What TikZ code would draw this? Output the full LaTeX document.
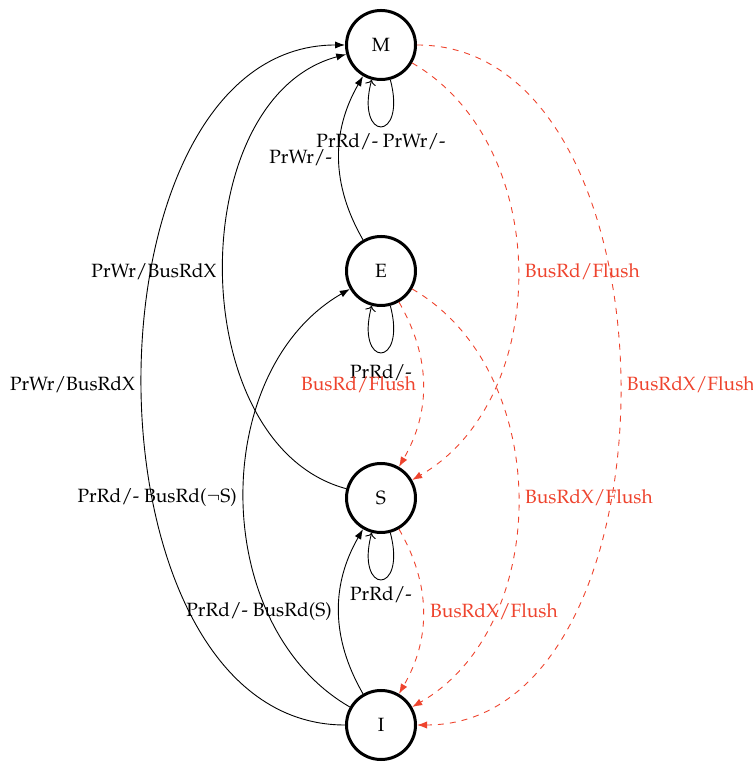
\documentclass[tikz,border=0pt]{standalone}
\usepackage[T1]{fontenc}
\usepackage{mathpazo}
\usetikzlibrary{arrows.meta}
\definecolor{flushred}{RGB}{238,68,46}
\begin{document}
\begin{tikzpicture}[x=0.5pt,y=0.5pt,
  every node/.style={font=\fontsize{9.6}{11.5}\selectfont},
  state/.style={circle, draw, line width=1.5pt, minimum size=34.5pt, inner sep=0pt},
  tr/.style={-{Latex[length=5pt,width=3.6pt]}, line width=0.45pt},
  bus/.style={tr, dashed, draw=flushred, text=flushred},
  selfloop/.style={->, line width=0.45pt}
]
\useasboundingbox (0,0) rectangle (753,764);

% MESI states
\node[state] (M) at (381,719) {M};
\node[state] (E) at (381,493) {E};
\node[state] (S) at (381,266) {S};
\node[state] (I) at (381,39)  {I};

% self loops
\draw[selfloop] (M.-75) .. controls +(-75:65) and +(-105:65) .. (M.-105)
  node[pos=0.5, below] {PrRd/- PrWr/-};
\draw[selfloop] (E.-75) .. controls +(-75:65) and +(-105:65) .. (E.-105)
  node[pos=0.5, below, yshift=-2.5pt] {PrRd/-};
\draw[selfloop] (S.-75) .. controls +(-75:65) and +(-105:65) .. (S.-105)
  node[pos=0.5, below] {PrRd/-};

% processor-side transitions
\draw[tr] (E) to[bend left=30] node[left] {PrWr/-} (M);
\draw[tr] (S) to[bend left=75] node[left] {PrWr/BusRdX} (M);
\draw[tr] (I) to[bend left=90, looseness=1.02] node[left] {PrWr/BusRdX} (M);
\draw[tr] (I) to[bend left=60] node[left] {PrRd/- BusRd($\neg$S)} (E);
\draw[tr] (I) to[bend left=30] node[left] {PrRd/- BusRd(S)} (S);

% bus-side transitions
\draw[bus] (M) to[bend left=60] node[right] {BusRd/Flush} (S);
\draw[bus] (M) to[bend left=90, looseness=1.02] node[right] {BusRdX/Flush} (I);
\draw[bus] (E) to[bend left=60] node[right] {BusRdX/Flush} (I);
\draw[bus] (E) to[bend left=30] node[left] {BusRd/Flush} (S);
\draw[bus] (S) to[bend left=30] node[right] {BusRdX/Flush} (I);
\end{tikzpicture}
\end{document}
